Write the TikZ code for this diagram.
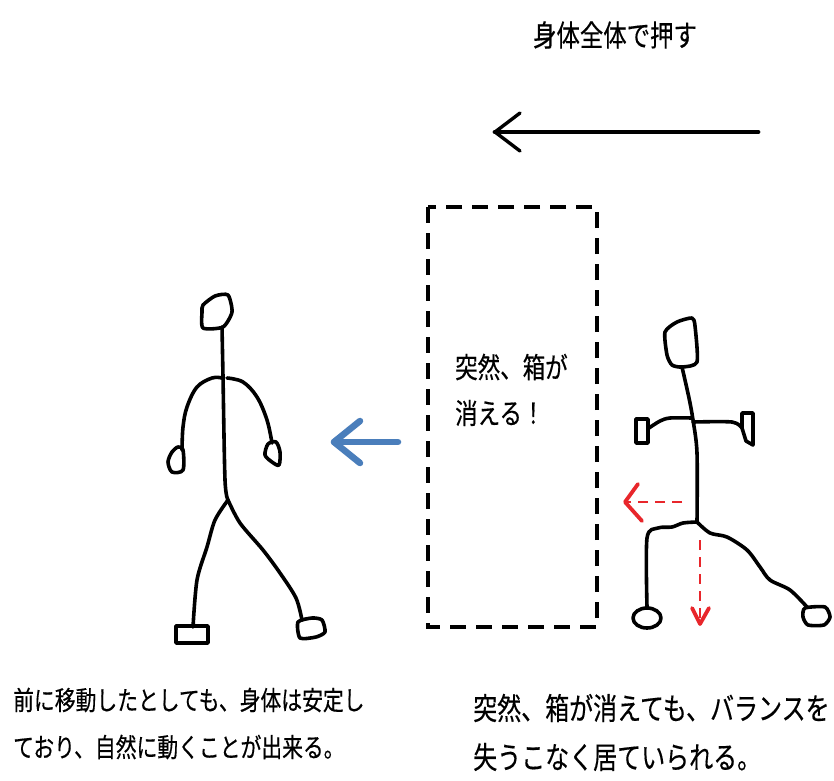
\documentclass[tikz,border=0pt]{standalone}
\usepackage{fontspec}
\usepackage{graphicx}
\newfontfamily\jp[FakeBold=0.4]{Noto Sans CJK JP}
\definecolor{pushblue}{HTML}{4A7EBB}
\definecolor{shiftred}{HTML}{E8262B}
\tikzset{
  limb/.style={line width=3.6pt, line join=round, line cap=round},
  jtext/.style={inner sep=0pt, anchor=west},
  bigarrow/.style={line width=4.8pt, line cap=round, line join=round},
  blue arrow/.style={pushblue, line width=6.5pt, line cap=round, line join=round},
  red arrow/.style={shiftred, line width=2.8pt, dash pattern=on 10pt off 7pt},
  red head/.style={shiftred, line width=3.8pt, line cap=round, line join=round},
}
% Japanese text, slightly stretched vertically
\newcommand{\jt}[2]{\scalebox{1}[1.27]{\fontsize{#1pt}{#1pt}\selectfont\jp #2}}
\begin{document}
\begin{tikzpicture}[x=1pt,y=-1pt]
\useasboundingbox[fill=white] (0,0) rectangle (834,780);

% push direction
\node[inner sep=0pt] (title) at (615,35) {\jt{23.4}{身体全体で押す}};
\coordinate (pushS) at (758,132);
\coordinate (pushE) at (495,132);
\draw[bigarrow] (pushS) -- (pushE);
\draw[bigarrow, line width=3.4pt] (pushE) ++(25,-19) -- (pushE) -- ++(25,19);

% the vanishing box
\draw[line width=4.2pt, dash pattern=on 16pt off 10pt] (428,207) rectangle (597,627);
\node[jtext] (box1) at (455,367) {\jt{22.5}{突然、箱が}};
\node[jtext] (box2) at (455,413) {\jt{22.5}{消える！}};

% blue arrow
\coordinate (blueS) at (398,442);
\coordinate (blueE) at (334,442);
\draw[blue arrow] (blueS) -- (blueE);
\draw[blue arrow] (blueE) ++(26,-21) -- (blueE) -- ++(26,21);

% left figure (walking)
\begin{scope}[limb]
  \draw plot[smooth cycle, tension=0.4] coordinates {(203,305) (215,296) (228,295) (232,312) (223,327) (203,328) (202,312)};
  \draw plot[smooth, tension=0.5] coordinates {(222,327) (223,377) (225,480) (228,500)};
  \draw plot[smooth, tension=0.6] coordinates {(222,378) (212,378) (197,387) (187,407) (183,427) (182,450)};
  \draw plot[smooth cycle, tension=0.5] coordinates {(178,447) (183,450) (183,470) (172,472) (168,462) (172,452)};
  \draw plot[smooth, tension=0.6] coordinates {(227,378) (243,382) (257,397) (267,420) (272,443)};
  \draw plot[smooth cycle, tension=0.5] coordinates {(268,444) (276,442) (280,452) (279,465) (272,462) (265,455)};
  \draw plot[smooth, tension=0.5] coordinates {(228,500) (215,520) (207,547) (197,580) (193,627)};
  \draw (176,626) rectangle (208,643);
  \draw plot[smooth, tension=0.5] coordinates {(228,500) (240,523) (263,550) (280,573) (296,598) (302,620)};
  \draw plot[smooth cycle, tension=0.4] coordinates {(298,622) (312,618) (322,620) (325,632) (316,637) (300,638)};
\end{scope}

% right figure (braced)
\begin{scope}[limb]
  \draw plot[smooth cycle, tension=0.4] coordinates {(665,332) (677,322) (692,318) (695,326) (697,362) (682,367) (672,365) (667,355)};
  \draw plot[smooth, tension=0.5] coordinates {(682,367) (689,398) (693,420) (697,453) (697,522)};
  \draw plot[smooth, tension=0.5] coordinates {(692,418) (670,418) (660,421) (649,428)};
  \draw (636,419) rectangle (648,443);
  \draw plot[smooth, tension=0.5] coordinates {(693,422) (732,422) (742,428)};
  \draw (742,413) -- (753,413) -- (753,445) -- (746,441) -- (742,428) -- cycle;
  \draw plot[smooth, tension=0.5] coordinates {(697,522) (683,523) (672,527) (658,528) (647,538) (647,607)};
  \draw (647,618) ellipse[x radius=14, y radius=10];
  \draw plot[smooth, tension=0.5] coordinates {(697,522) (710,533) (727,537) (747,550) (760,567) (770,580) (790,590) (807,607)};
  \draw plot[smooth cycle, tension=0.4] coordinates {(805,608) (825,607) (830,617) (824,625) (808,625) (803,617)};
\end{scope}

% red shift arrows
\coordinate (redHS) at (682,502);
\coordinate (redHE) at (625,502);
\draw[red arrow] (redHS) -- (redHE);
\draw[red head] (redHE) ++(13,-18) -- (redHE) -- ++(17,19);
\coordinate (redVS) at (700,540);
\coordinate (redVE) at (700,624);
\draw[red arrow] (redVS) -- (redVE);
\draw[red head] (redVE) ++(-8,-16) -- (redVE) -- ++(9,-16);

% captions
\node[jtext] (capL1) at (13,700) {\jt{20.8}{前に移動したとしても、身体は安定し}};
\node[jtext] (capL2) at (13,747) {\jt{20.8}{ており、自然に動くことが出来る。}};
\node[jtext] (capR1) at (473,708) {\jt{24}{突然、箱が消えても、バランスを}};
\node[jtext] (capR2) at (473,757) {\jt{24}{失うこなく居ていられる。}};
\end{tikzpicture}
\end{document}
